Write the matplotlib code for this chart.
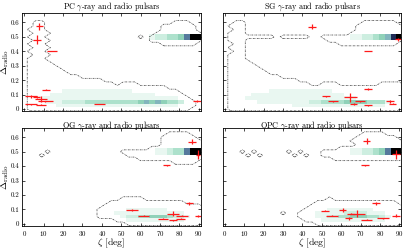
import numpy as np
import matplotlib
matplotlib.use("Agg")
import matplotlib.pyplot as plt
from matplotlib.colors import ListedColormap, BoundaryNorm

plt.rcParams["font.family"] = "serif"
plt.rcParams["font.serif"] = ["cmr10"]
plt.rcParams["mathtext.fontset"] = "cm"
plt.rcParams["axes.unicode_minus"] = False
plt.rcParams["axes.formatter.use_mathtext"] = True

# density grids: rows go from Delta=0.65 (top) down to 0,
# columns are zeta = 0, 3, ..., 90 deg ('.' = empty, 1 = inside contour, 2-9 = colour level)
pc_grid = [
    "", "",
    "..11. ..... ..... ..... ..... .111. .",
    "..11. ..... ..... ..... ....1 11111 .",
    ".111. ..... ..... ..... ....1 11111 .",
    "..111 ..... ..... ..... ...11 11111 1",
    ".111. ..... ..... ..... 1.233 44579 9",
    "..111 ..... ..... ..... ..111 11111 1",
    ".111. ..... ..... ..... ....1 11111 .",
    "..111", ".111.", "..111", ".111.", ".1111",
    ".1111 1",
    ".1111 11",
    ".1111 111",
    ".1111 11111",
    ".1111 11111 1111.",
    ".1111 11111 11111 1.111",
    ".1111 11111 11111 11111 11111",
    ".1111 11222 22222 22221 11111 11",
    ".1111 22222 22222 22222 22211 111",
    ".1122 22222 22222 22222 22222 2211.",
    ".1112 22333 34444 44444 56565 44311 .",
    ".1111 12222 22222 22222 22222 22111 .",
    ".1111 11111 11111 11111 11111 1111. .",
]

sg_grid = [
    "", "",
    "..11. ..... ..... ..... ....1 11111 .",
    ".111. ..... ..... ..... ...11 11111 1",
    "..11. ..... ..... ..... ...11 11111 1",
    ".111. ..... ..... ..... ..111 11111 1",
    ".1111 1111. 11111 ..111 11223 34568 9",
    ".111. ..... ..... ...11 11111 11111 1",
    "..11. ..... ..... ..... 11111 11111 .",
    ".111.", "..11.", ".111.", ".111.", ".1111",
    ".1111 1",
    ".1111 11",
    ".1111 111",
    ".1111 11111",
    ".1111 11111 111..",
    ".1111 11111 11111 ..111 ..... ..111 1",
    ".1111 11111 11111 11111 11111 11111 1",
    ".1111 11122 22222 22221 11111 11111 1",
    ".1111 22222 22222 22222 21111 11111 1",
    ".1112 22222 22222 22222 22211 11111 1",
    ".1111 12222 22222 33444 45555 44421 1",
    ".1111 11111 11222 22222 22222 22211 1",
    ".1111 11111 11111 11111 11111 11111 1",
]

og_grid = [
    "",
    "..... ..... ..... ..... ..... 1111.",
    "..... ..... ..... ..... ....1 11111",
    "..... ..... ..... ..... ....1 11111 1",
    "..... ..... ..... ..... ....1 11111 1",
    "..... ..... ..... ..... ..111 11111 1",
    "....1 ..... ..... ..111 11122 34479 9",
    "...1. ..... ..... ...11 11111 11111 1",
    "..... ..... ..... ..... 11111 11111 1",
    "..... ..... ..... ..... ..... .1111",
    "", "", "", "", "", "", "", "", "",
    "..... ..... ..... ..111 1",
    "..... ..... ..... 11111 11111 111",
    "..... ..... ....1 11111 11111 11111 1",
    "..... ..... ...11 11122 22222 11111 1",
    "..... ..... ...11 12222 22222 22211 1",
    "..... ..... ...11 11233 44555 43321 1",
    "..... ..... ..... .1122 22222 22211 1",
    "..... ..... ..... ...11 11111 11111 1",
]

opc_grid = [
    "",
    "..... ..... ..... ..... ....1 111",
    "..... ..... ..... ..... ...11 11111",
    "..... ..... ..... ..... ..111 11111 1",
    "..... ..... ..... ..... ...11 11111 1",
    "..... ..... ..... ..... 11111 11111 1",
    "...1. 1.... .1.1. ..111 11223 34579 9",
    "....1 .1... ..1.1 ..111 11111 11111 1",
    "..... ..... ..... ....1 11111 11111 1",
    "", "", "", "", "", "", "", "", "", "",
    "..... ..... ..... ...1",
    "..... ..... ..... .1111 11111 11111",
    "..... ..... ..... 11111 11111 11111 1",
    "..... ..... ....1 11122 22222 21111 1",
    "..... ..... 1..11 12222 23333 22211 1",
    "..... ..... ...11 12233 44555 44321 1",
    "..... ..... ....1 11222 22222 22211 1",
    "..... ..... ..... .1111 11111 11111 1",
]

# observed pulsars: zeta, Delta_radio and their errors
pc_zeta = [7.8, 6.5, 14.4, 11.2, 3.5, 6.3, 8.6, 10.8, 3.5, 8.5, 38.7, 89.0]
pc_delta = [0.574, 0.481, 0.402, 0.135, 0.089, 0.083, 0.068, 0.053, 0.034, 0.029, 0.035, 0.055]
pc_zerr = [2, 2, 2.5, 2, 3, 2, 3, 4, 3, 2.5, 3, 2]
pc_derr = [0.025, 0.03, 0.003, 0.003, 0.01, 0.005, 0.02, 0.003, 0.003, 0.003, 0.003, 0.005]

sg_zeta = [45.0, 89.3, 74.0, 74.0, 52.0, 64.7, 55.7, 69.8, 66.4, 74.0, 85.0, 86.5]
sg_delta = [0.571, 0.484, 0.402, 0.137, 0.089, 0.081, 0.052, 0.052, 0.034, 0.026, 0.052, 0.038]
sg_zerr = [2, 1.5, 2, 2, 2, 3.5, 2.5, 2.5, 2, 2, 2, 2]
sg_derr = [0.02, 0.01, 0.003, 0.005, 0.003, 0.03, 0.003, 0.005, 0.008, 0.003, 0.01, 0.005]

og_zeta = [86.6, 89.7, 73.4, 85.2, 55.5, 61.5, 76.6, 71.7, 76.6, 80.6, 81.3, 89.5]
og_delta = [0.570, 0.480, 0.406, 0.141, 0.095, 0.055, 0.071, 0.035, 0.025, 0.035, 0.055, 0.055]
og_zerr = [2, 1, 2, 2, 3, 3, 3, 2.5, 2, 2.5, 3, 1.5]
og_derr = [0.02, 0.03, 0.003, 0.008, 0.008, 0.003, 0.02, 0.003, 0.003, 0.003, 0.003, 0.008]

opc_zeta = [73.1, 88.2, 72.3, 78.0, 51.7, 60.7, 65.2, 68.4, 55.3, 63.8, 73.1, 81.6, 88.3]
opc_delta = [0.572, 0.482, 0.406, 0.141, 0.092, 0.096, 0.071, 0.069, 0.055, 0.037, 0.030, 0.037, 0.055]
opc_zerr = [2, 2, 2, 2, 2, 2, 2, 4, 3, 2, 3, 3, 2]
opc_derr = [0.02, 0.03, 0.003, 0.01, 0.003, 0.015, 0.005, 0.025, 0.003, 0.01, 0.003, 0.003, 0.01]

titles = [r"PC $\gamma$-ray and radio pulsars", r"SG $\gamma$-ray and radio pulsars",
          r"OG $\gamma$-ray and radio pulsars", r"OPC $\gamma$-ray and radio pulsars"]
xticks = [0, 10, 20, 30, 40, 50, 60, 70, 80, 90]
yticks = [0, 0.1, 0.2, 0.3, 0.4, 0.5, 0.6]
ytick_labels = ["0", "0.1", "0.2", "0.3", "0.4", "0.5", "0.6"]

zeta_c = np.arange(0, 91, 3)
delta_c = np.arange(27) * 0.025

# cell edges for the colour map; the Delta=0.5 row is drawn a bit taller
zeta_e = np.concatenate([[zeta_c[0] - 1.5], zeta_c + 1.5])
delta_e = np.concatenate([[delta_c[0] - 0.0125], delta_c + 0.0125])
delta_e[20] = 0.478
delta_e[21] = 0.522

cmap = ListedColormap(["#ffffff", "#ffffff", "#e9f7f1", "#cdeee0", "#ade1cc",
                       "#8fd1b8", "#82b5bd", "#55799c", "#1e2a55", "#000000"])
norm = BoundaryNorm(np.arange(-0.5, 10.5, 1), cmap.N)


def parse(rows):
    g = np.zeros((len(delta_c), len(zeta_c)))
    for k, row in enumerate(rows):
        s = row.replace(" ", "").ljust(len(zeta_c), ".")
        for i, ch in enumerate(s):
            g[len(delta_c) - 1 - k, i] = 0 if ch == "." else int(ch)
    return g


panels = [
    (pc_grid, pc_zeta, pc_delta, pc_zerr, pc_derr),
    (sg_grid, sg_zeta, sg_delta, sg_zerr, sg_derr),
    (og_grid, og_zeta, og_delta, og_zerr, og_derr),
    (opc_grid, opc_zeta, opc_delta, opc_zerr, opc_derr),
]

fig, axes = plt.subplots(2, 2, figsize=(4.07, 2.5), dpi=100)
fig.subplots_adjust(left=0.055, right=0.986, top=0.948, bottom=0.096,
                    wspace=0.125, hspace=0.17)

zc = np.concatenate([[zeta_c[0] - 3], zeta_c, [zeta_c[-1] + 3]])
dc = np.concatenate([[delta_c[0] - 0.025], delta_c, [delta_c[-1] + 0.025]])

for k, (ax, (grid, zz, dd, ze, de)) in enumerate(zip(axes.flat, panels)):
    z = parse(grid)
    ax.pcolormesh(zeta_e, delta_e, z, cmap=cmap, norm=norm, shading="flat")
    mask = np.pad((z > 0).astype(float), 1)
    ax.contour(zc, dc, mask, levels=[0.5], colors="#3a3a3a", linewidths=0.5,
               linestyles=[(0, (2.5, 1.2, 0.8, 1.2))])
    ax.errorbar(zz, dd, xerr=ze, yerr=de, fmt="none", ecolor="#ff1a1a",
                elinewidth=0.9, capsize=0)

    ax.set_xlim(-1, 91)
    ax.set_ylim(-0.015, 0.665)
    ax.set_xticks(xticks)
    ax.set_yticks(yticks)
    ax.set_yticklabels(ytick_labels)
    ax.tick_params(direction="in", top=True, right=True, length=2.5, width=0.5,
                   labelsize=5, pad=2)
    for sp in ax.spines.values():
        sp.set_linewidth(0.6)
    ax.set_title(titles[k], fontsize=5.8, pad=0.3)
    if k < 2:
        ax.tick_params(labelbottom=False)
    else:
        ax.set_xlabel(r"$\zeta$ [deg]", fontsize=7, labelpad=-1)
    if k % 2 == 1:
        ax.tick_params(labelleft=False)
    else:
        ax.set_ylabel(r"$\Delta_{\rm radio}$", fontsize=7, labelpad=0)

fig.savefig("out.png", dpi=100)
